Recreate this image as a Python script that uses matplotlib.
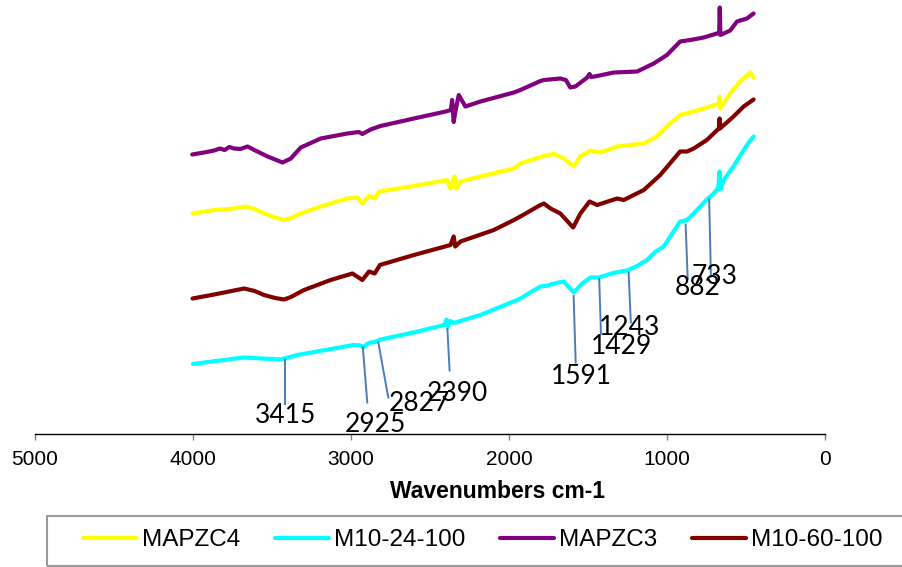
import matplotlib
matplotlib.use("Agg")
import matplotlib.pyplot as plt
from matplotlib.patches import Rectangle

# FTIR spectra (transmittance, arbitrary offset units) vs wavenumber (cm-1)
wn_mapzc4 = [4003, 3866, 3740, 3666, 3610, 3550, 3480, 3423, 3380, 3318, 3192, 3023, 2960, 2928,
             2886, 2850, 2822, 2602, 2391, 2370, 2345, 2332, 2307, 2181, 1969, 1928, 1850, 1779,
             1716, 1653, 1590, 1548, 1485, 1422, 1316, 1147, 1063, 980, 917, 831, 748, 673, 667,
             664, 600, 537, 474, 452]
t_mapzc4 = [44.1, 44.8, 45.1, 45.5, 45.0, 44.1, 43.3, 42.8, 43.2, 44.1, 45.5, 47.1, 47.3, 46.1,
            47.6, 47.1, 48.5, 49.6, 50.8, 49.1, 51.5, 49.1, 50.5, 51.5, 53.1, 54.1, 54.9, 55.6,
            56.0, 55.1, 53.5, 55.5, 56.7, 56.3, 57.5, 58.1, 59.5, 62.1, 63.8, 64.5, 65.3, 66.1, 67.5,
            65.1, 68.1, 70.5, 72.3, 71.3]

wn_m10_24 = [4000, 3680, 3445, 3340, 2983, 2940, 2922, 2900, 2876, 2850, 2813, 2604, 2410, 2395,
             2388, 2372, 2350, 2181, 1972, 1928, 1860, 1801, 1770, 1700, 1654, 1590, 1540, 1485,
             1432, 1340, 1253, 1190, 1126, 1075, 1021, 960, 917, 880, 860, 831, 748, 705, 675,
             667, 662, 641, 579, 515, 480, 452]
t_m10_24 = [14.0, 15.3, 14.9, 15.8, 17.8, 17.7, 17.3, 18.0, 18.3, 18.4, 18.9, 20.3, 21.8, 22.9,
            21.4, 22.6, 22.2, 23.8, 26.5, 27.1, 28.4, 29.5, 29.6, 30.2, 30.5, 28.3, 30.0, 31.3,
            31.3, 32.2, 32.7, 33.6, 34.8, 36.4, 37.5, 40.4, 42.5, 42.7, 43.2, 44.1, 46.9, 48.1,
            49.3, 52.5, 48.9, 50.8, 53.5, 56.8, 58.4, 59.5]

wn_mapzc3 = [4005, 3930, 3866, 3830, 3800, 3770, 3740, 3700, 3655, 3612, 3528, 3433, 3381, 3318,
             3192, 3023, 2950, 2928, 2876, 2813, 2602, 2400, 2368, 2360, 2350, 2340, 2318, 2276,
             2181, 1969, 1928, 1801, 1779, 1675, 1640, 1612, 1580, 1505, 1490, 1480, 1442, 1337,
             1189, 1084, 1000, 917, 853, 768, 684, 670, 666, 662, 600, 557, 494, 452]
t_mapzc3 = [55.9, 56.3, 56.7, 57.1, 56.8, 57.4, 57.1, 57.0, 57.5, 56.8, 55.5, 54.3, 55.1, 57.3,
            59.1, 60.1, 60.4, 60.0, 60.9, 61.6, 63.1, 64.5, 64.8, 66.8, 62.4, 64.4, 67.8, 65.5,
            66.5, 68.3, 68.8, 70.6, 70.8, 71.1, 70.8, 69.3, 69.5, 71.3, 72.0, 71.4, 71.6, 72.3,
            72.5, 74.1, 75.8, 78.5, 78.8, 79.3, 80.1, 80.2, 85.3, 79.8, 80.7, 82.5, 83.1, 84.1]

wn_m10_60 = [4003, 3866, 3676, 3610, 3550, 3480, 3423, 3380, 3297, 3129, 2991, 2928, 2886, 2850,
             2817, 2602, 2370, 2350, 2340, 2307, 2096, 1969, 1928, 1801, 1779, 1737, 1675, 1594,
             1548, 1490, 1442, 1316, 1274, 1147, 1043, 917, 873, 831, 748, 672, 667, 664, 579,
             515, 452]
t_m10_60 = [27.1, 27.9, 29.1, 28.6, 27.8, 27.2, 26.9, 27.4, 28.8, 30.8, 32.1, 30.8, 32.5, 32.1,
            33.8, 35.8, 37.8, 39.5, 37.5, 38.5, 40.8, 42.8, 43.5, 45.8, 46.1, 45.1, 44.1, 41.3,
            44.1, 46.5, 45.8, 47.1, 46.8, 48.8, 51.8, 56.5, 56.5, 57.1, 58.8, 61.1, 63.1, 61.1,
            63.5, 65.5, 66.9]

series_names = ["MAPZC4", "M10-24-100", "MAPZC3", "M10-60-100"]
series_colors = ["#FFFF00", "#00FFFF", "#800080", "#800000"]

# Band assignments marked on the M10-24-100 spectrum
band_labels = ["3415", "2925", "2827", "2390", "1591", "1429", "1243", "882", "733"]
band_values = [3415, 2925, 2827, 2390, 1591, 1429, 1243, 882, 733]

# leader-line / label layout: (top y, bottom shift in cm-1, bottom y, text shift in cm-1, text y)
band_layout = [
    (14.8, 0, 6.0, 0, 3.7),
    (17.3, -28, 6.3, -80, 1.8),
    (18.3, -63, 7.3, -257, 6.1),
    (21.0, -14, 12.7, -64, 8.1),
    (27.6, -13, 14.3, -49, 11.6),
    (31.0, -11, 20.1, -141, 17.5),
    (32.3, -14, 22.3, -7, 21.3),
    (41.9, -13, 31.0, -79, 29.3),
    (46.9, -11, 31.5, -32, 31.6),
]

W, H = 902, 567
fig = plt.figure(figsize=(W / 100, H / 100), dpi=100)
ax = fig.add_axes([35 / W, (H - 434) / H, (825 - 35) / W, 434 / H])

data = [(wn_mapzc4, t_mapzc4), (wn_m10_24, t_m10_24), (wn_mapzc3, t_mapzc3), (wn_m10_60, t_m10_60)]
for (x, y), name, col in zip(data, series_names, series_colors):
    ax.plot(x, y, color=col, lw=3.0, label=name, solid_capstyle="round", solid_joinstyle="round")

for lab, val, (yt, dwb, yb, dwt, ytx) in zip(band_labels, band_values, band_layout):
    ax.plot([val, val + dwb], [yt, yb], color="#4A7EBB", lw=1.4, clip_on=False)
    ax.text(val + dwt, ytx, lab, ha="center", va="center", fontsize=19,
            family="Lato", color="black", clip_on=False)

ax.set_xlim(5000, 0)
ax.set_ylim(0, 86.8)
ax.set_xticks([5000, 4000, 3000, 2000, 1000, 0])
ax.set_xticklabels(["5000", "4000", "3000", "2000", "1000", "0"],
                   fontsize=15, family="Liberation Sans")
ax.tick_params(axis="x", direction="out", length=4.5, width=1, color="#808080", pad=7)
ax.set_yticks([])
for s in ["left", "right", "top"]:
    ax.spines[s].set_visible(False)
ax.spines["bottom"].set_color("black")
ax.spines["bottom"].set_linewidth(1.0)
ax.patch.set_alpha(0)

fig.text(497 / W, 1 - 492 / H, "Wavenumbers cm-1", ha="center", va="center",
         fontsize=16.5, fontweight="bold", family="Liberation Sans")

# legend frame and entries
fig.patches.append(Rectangle((47 / W, 1 - 566 / H), (910 - 47) / W, 50 / H,
                             transform=fig.transFigure, fill=False,
                             edgecolor="#9A9A9A", lw=1.5, clip_on=False))
handles, labels = ax.get_legend_handles_labels()
leg = fig.legend(handles, labels, loc="center left", bbox_to_anchor=(83 / W, 1 - 540 / H),
                 ncol=4, frameon=False, borderpad=0, borderaxespad=0,
                 handlelength=2.2, handletextpad=0.21, columnspacing=1.45,
                 prop={"family": "Liberation Sans", "size": 17.5})
for line in leg.get_lines():
    line.set_linewidth(3)

fig.savefig("out.png", dpi=100)
